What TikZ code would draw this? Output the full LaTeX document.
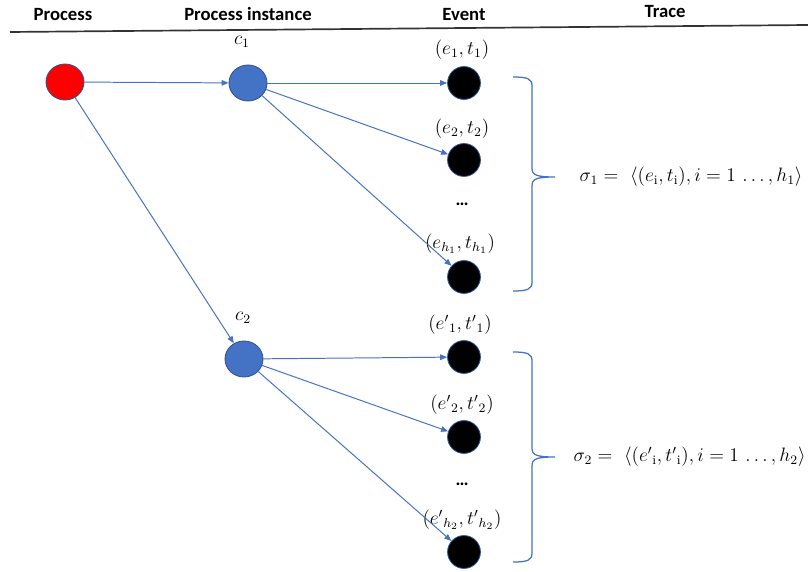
\documentclass[tikz,border=0pt]{standalone}
\usepackage{fontspec}
\setsansfont{Carlito}
\usepackage{amsmath}
\usetikzlibrary{arrows.meta,shapes.geometric}
\definecolor{linkblue}{HTML}{4472C4}
\definecolor{rimblue}{HTML}{2F528F}
\tikzset{
  procnode/.style={ellipse, draw=rimblue, line width=0.6pt,
                   minimum width=0.95cm, minimum height=0.9cm, inner sep=0pt},
  rootnode/.style={procnode, fill=red},
  casenode/.style={procnode, fill=linkblue},
  eventnode/.style={circle, draw=rimblue, fill=black, line width=0.6pt,
                    minimum size=0.82cm, inner sep=0pt},
  link/.style={draw=linkblue, line width=0.7pt, -{Triangle[length=5pt,width=4pt]}},
  bracket/.style={draw=linkblue, line width=0.9pt},
  head/.style={font=\sffamily\bfseries\fontsize{13.3}{15}\selectfont, anchor=base},
  mathlbl/.style={font=\fontsize{12}{14}\selectfont, scale=1.15},
  gap/.style={font=\sffamily\bfseries\fontsize{13}{15}\selectfont},
}

\begin{document}
\begin{tikzpicture}
    \useasboundingbox (0,0) rectangle (20.2,-14.3);
    % column heads
    \node[head] (hproc) at (1.575,-0.525) {Process};
    \node[head] (hinst) at (6.2,-0.525) {Process instance};
    \node[head] (hevent) at (11.6,-0.51) {Event};
    \node[head] (htrace) at (16.625,-0.44) {Trace};
    \draw[black!80, line width=1.2pt] (0.25,-0.8) -- (20.2,-0.625);
    % process and cases
    \node[rootnode] (root) at (1.625,-2.05) {};
    \node[casenode] (c1) at (6.2,-2.075) {};
    \node[casenode] (c2) at (6.1,-8.975) {};
    \node[mathlbl] (c1lbl) at (6.05,-1.05) {$c_1$};
    \node[mathlbl] (c2lbl) at (6.075,-7.95) {$c_2$};
    % events
    \node[eventnode] (e1) at (11.6,-2.075) {};
    \node[eventnode] (e2) at (11.6,-4.0) {};
    \node[eventnode] (eh1) at (11.6,-6.925) {};
    \node[eventnode] (f1) at (11.6,-8.925) {};
    \node[eventnode] (f2) at (11.6,-10.925) {};
    \node[eventnode] (fh2) at (11.6,-13.8) {};
    \node[mathlbl] (e1lbl) at (11.55,-1.25) {$(e_1,t_1)$};
    \node[mathlbl] (e2lbl) at (11.55,-3.22) {$(e_2,t_2)$};
    \node[gap] (dots1) at (11.55,-5.1) {\ldots};
    \node[mathlbl] (eh1lbl) at (11.5,-6.1) {$(e_{h_1},t_{h_1})$};
    \node[mathlbl] (f1lbl) at (11.5,-8.125) {$({e'}_1,{t'}_1)$};
    \node[mathlbl] (f2lbl) at (11.55,-10.125) {$({e'}_2,{t'}_2)$};
    \node[gap] (dots2) at (11.55,-12.1) {\ldots};
    \node[mathlbl] (fh2lbl) at (11.55,-13.0) {$({e'}_{h_2},{t'}_{h_2})$};
    % connectors
    \draw[link] (root) -- (c1);
    \draw[link] (root) -- (c2);
    \draw[link] (c1) -- (e1);
    \draw[link] (c1) -- (e2);
    \draw[link] (c1) -- (eh1);
    \draw[link] (c2) -- (f1);
    \draw[link] (c2) -- (f2);
    \draw[link] (c2) -- (fh2);
    % braces
    \foreach \ya/\ym/\yb in {-1.925/-4.425/-7.275, -8.8/-11.425/-14.05}
      \draw[bracket] (12.825,\ya) .. controls (13.2,\ya) and (13.3,\ya-0.05) .. (13.3,\ya-0.225)
        -- (13.3,\ym+0.225) .. controls (13.3,\ym+0.05) and (13.4,\ym) .. (13.875,\ym)
        .. controls (13.4,\ym) and (13.3,\ym-0.05) .. (13.3,\ym-0.225)
        -- (13.3,\yb+0.225) .. controls (13.3,\yb+0.05) and (13.2,\yb) .. (12.825,\yb);
    % traces
    \node[mathlbl, anchor=west] (sigma1) at (14.35,-4.425)
      {$\sigma_1 =\ \langle (e_\mathrm{i},t_\mathrm{i}), i = 1\,\ldots, h_1\rangle$};
    \node[mathlbl, anchor=west] (sigma2) at (14.2,-11.425)
      {$\sigma_2 =\ \langle ({e'}_\mathrm{i},{t'}_\mathrm{i}), i = 1\,\ldots, h_2\rangle$};
  \end{tikzpicture}
\end{document}
